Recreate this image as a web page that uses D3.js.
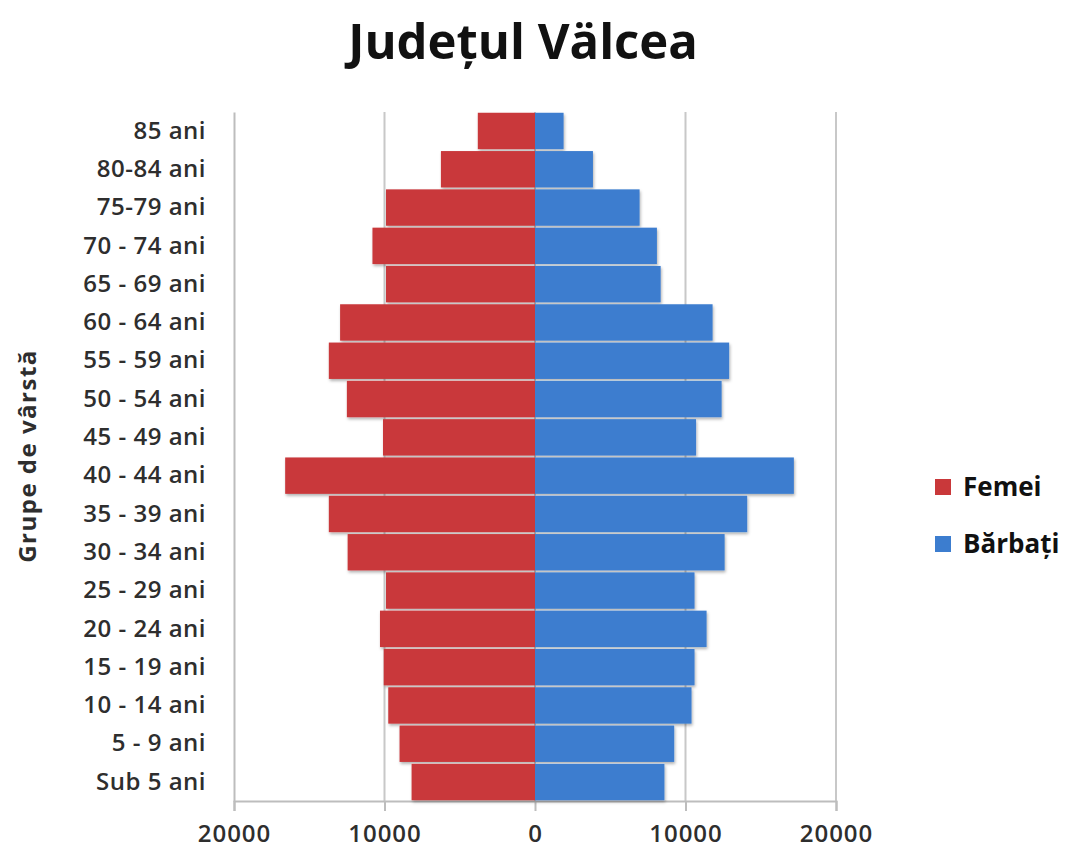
<!DOCTYPE html>
<html>
<head>
<meta charset="utf-8">
<script src="https://cdn.jsdelivr.net/npm/d3@7"></script>
<style>
  body { margin: 0; background: #fff; }
  svg { display: block; font-family: "Open Sans", sans-serif; }
</style>
</head>
<body>
<svg id="chart" width="1065" height="856"></svg>
<script>
'use strict';
//data
var GROUPS = ['85 ani', '80-84 ani', '75-79 ani', '70 - 74 ani', '65 - 69 ani',
  '60 - 64 ani', '55 - 59 ani', '50 - 54 ani', '45 - 49 ani', '40 - 44 ani',
  '35 - 39 ani', '30 - 34 ani', '25 - 29 ani', '20 - 24 ani', '15 - 19 ani',
  '10 - 14 ani', '5 - 9 ani', 'Sub 5 ani'];
var FEMEI = [3800, 6250, 9900, 10800, 9900, 12950, 13700, 12500, 10100, 16600,
  13700, 12450, 9900, 10300, 10050, 9750, 9000, 8200];
var BARBATI = [1900, 3850, 6950, 8100, 8350, 11800, 12900, 12400, 10700, 17200,
  14100, 12600, 10600, 11400, 10600, 10400, 9250, 8600];
var TICKS = [-20000, -10000, 0, 10000, 20000];
var SERIES = ['Femei', 'Bărbați'];
var COLORS = ['#c9383a', '#3c7dcf'];

var svg = d3.select('#chart');

var x = d3.scaleLinear().domain([-20000, 20000]).range([234, 836]);
var y = d3.scaleBand().domain(GROUPS).range([112, 801]).paddingInner(0.05).paddingOuter(0.02);

// shadow under bars
var defs = svg.append('defs');
var f = defs.append('filter').attr('id', 'shadow')
  .attr('x', '-5%').attr('y', '-10%').attr('width', '115%').attr('height', '140%');
f.append('feDropShadow').attr('dx', 1).attr('dy', 2).attr('stdDeviation', 1.5)
  .attr('flood-color', '#000').attr('flood-opacity', 0.3);

// title
svg.append('text')
  .attr('x', 523).attr('y', 59)
  .attr('text-anchor', 'middle')
  .attr('font-size', 49).attr('font-weight', 'bold').attr('fill', '#111')
  .text('Județul Välcea');

// gridlines
svg.append('g').selectAll('line')
  .data(TICKS.filter(function(d) { return d !== -20000; }))
  .enter().append('line')
  .attr('x1', function(d) { return x(d); })
  .attr('x2', function(d) { return x(d); })
  .attr('y1', 112).attr('y2', 801)
  .attr('stroke', '#c8c8c8').attr('stroke-width', 2);

// bottom axis
var xAxis = d3.axisBottom(x).tickValues(TICKS)
  .tickSize(10).tickPadding(14)
  .tickFormat(function(d) { return d3.format('d')(Math.abs(d)); });
var gx = svg.append('g').attr('transform', 'translate(0,801)').call(xAxis);
gx.select('.domain').attr('stroke', '#bdbdbd').attr('stroke-width', 2);
gx.selectAll('.tick line').attr('stroke', '#bdbdbd').attr('stroke-width', 2);
gx.selectAll('.tick text')
  .attr('font-family', 'Open Sans').attr('font-size', 24).attr('font-weight', 600)
  .attr('fill', '#2e2e2e').attr('letter-spacing', 1);

// left axis
var yAxis = d3.axisLeft(y).tickSize(0).tickPadding(28);
var gy = svg.append('g').attr('transform', 'translate(234,0)').call(yAxis);
gy.select('.domain').attr('stroke', '#bdbdbd').attr('stroke-width', 2);
gy.selectAll('.tick text')
  .attr('font-family', 'Open Sans').attr('font-size', 24).attr('font-weight', 600)
  .attr('fill', '#2e2e2e').attr('letter-spacing', 0.5);

// bars
var bars = svg.append('g').attr('filter', 'url(#shadow)');
bars.selectAll('rect.femei')
  .data(FEMEI)
  .enter().append('rect')
  .attr('class', 'femei')
  .attr('x', function(d) { return x(-d); })
  .attr('y', function(d, i) { return y(GROUPS[i]); })
  .attr('width', function(d) { return x(0) - x(-d); })
  .attr('height', y.bandwidth())
  .attr('fill', COLORS[0]);
bars.selectAll('rect.barbati')
  .data(BARBATI)
  .enter().append('rect')
  .attr('class', 'barbati')
  .attr('x', x(0))
  .attr('y', function(d, i) { return y(GROUPS[i]); })
  .attr('width', function(d) { return x(d) - x(0); })
  .attr('height', y.bandwidth())
  .attr('fill', COLORS[1]);

// y axis title
svg.append('text')
  .attr('transform', 'translate(36,456) rotate(-90)')
  .attr('text-anchor', 'middle')
  .attr('font-size', 24).attr('font-weight', 'bold').attr('fill', '#2e2e2e')
  .attr('letter-spacing', 1.5)
  .text('Grupe de vârstă');

// legend
var legend = svg.append('g').selectAll('g')
  .data(SERIES)
  .enter().append('g')
  .attr('transform', function(d, i) { return 'translate(935,' + (487 + i * 57) + ')'; });
legend.append('rect')
  .attr('x', 0).attr('y', -8).attr('width', 16).attr('height', 16)
  .attr('fill', function(d, i) { return COLORS[i]; });
legend.append('text')
  .attr('x', 28).attr('y', 0).attr('dy', '0.35em')
  .attr('font-size', 26).attr('font-weight', 'bold').attr('fill', '#111')
  .text(function(d) { return d; });
</script>
</body>
</html>
